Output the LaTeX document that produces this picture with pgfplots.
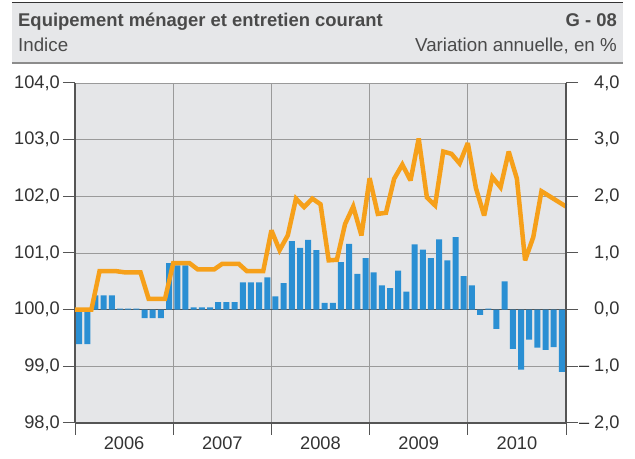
\documentclass[border=0pt]{standalone}
\usepackage{pgfplots}
\pgfplotsset{compat=1.18}
\usetikzlibrary{calc}
\usepackage{fontspec}
\setmainfont{Liberation Sans}
\definecolor{plotbg}{HTML}{E5E6E8}
\definecolor{headbg}{HTML}{E6E7E9}
\definecolor{axdark}{HTML}{555555}
\definecolor{gridc}{HTML}{9A9A9A}
\definecolor{barblue}{HTML}{2A8FD3}
\definecolor{lineorange}{HTML}{F6A01A}
\definecolor{titlegray}{HTML}{4A4A4A}
\definecolor{txt}{HTML}{333333}
\newcommand{\fs}{\fontsize{18.3}{20}\selectfont}
\begin{document}
\begin{tikzpicture}
\begin{axis}[
  scale only axis, width=491bp, height=340bp,
  xmin=0, xmax=60, ymin=-2, ymax=4,
  axis background/.style={fill=plotbg},
  axis x line*=bottom, axis y line*=left,
  axis line style={draw=axdark, line width=1.3bp},
  tick align=outside,
  major tick length=12bp,
  tick style={draw=axdark, line width=1bp},
  xtick={0,12,24,36,48,60}, xticklabels={},
  extra x ticks={6,18,30,42,54},
  extra x tick labels={2006,2007,2008,2009,2010},
  extra x tick style={major tick length=0pt, grid=none,
     xticklabel style={anchor=north, inner sep=0pt, yshift=-14bp}},
  ytick={-2,-1,0,1,2,3,4},
  yticklabels={{98,0},{99,0},{100,0},{101,0},{102,0},{103,0},{104,0}},
  yticklabel style={anchor=east, inner sep=0pt, xshift=-3bp},
  ticklabel style={font=\fs, text=txt},
  grid=major,
  major grid style={draw=gridc, line width=0.9bp},
  clip=false,
]
\coordinate (O) at (rel axis cs:0,0);
\draw[draw=axdark, line width=1.2bp] (axis cs:0,0) -- (axis cs:60,0);
\addplot[ybar, bar width=6bp, fill=barblue, draw=none] coordinates {
(0.5,-0.61) (1.5,-0.61) (2.5,0.25) (3.5,0.25) (4.5,0.25) (5.5,0.02)
(6.5,0.02) (7.5,0.02) (8.5,-0.15) (9.5,-0.15) (10.5,-0.15) (11.5,0.82)
(12.5,0.78) (13.5,0.78) (14.5,0.04) (15.5,0.04) (16.5,0.04) (17.5,0.135)
(18.5,0.135) (19.5,0.135) (20.5,0.48) (21.5,0.48) (22.5,0.48) (23.5,0.57)
(24.5,0.235) (25.5,0.47) (26.5,1.21) (27.5,1.09) (28.5,1.23) (29.5,1.05)
(30.5,0.12) (31.5,0.12) (32.5,0.84) (33.5,1.16) (34.5,0.63) (35.5,0.91)
(36.5,0.66) (37.5,0.43) (38.5,0.38) (39.5,0.69) (40.5,0.32) (41.5,1.15)
(42.5,1.06) (43.5,0.91) (44.5,1.24) (45.5,0.87) (46.5,1.28) (47.5,0.59)
(48.5,0.43) (49.5,-0.09) (50.5,0.02) (51.5,-0.34) (52.5,0.50) (53.5,-0.69)
(54.5,-1.06) (55.5,-0.53) (56.5,-0.67) (57.5,-0.71) (58.5,-0.66) (59.5,-1.10)
};
\addplot[draw=lineorange, line width=4.5bp, mark=none, line join=miter, miter limit=3] coordinates {
(0,0) (1,0) (2,0) (3,0.68) (4,0.68) (5,0.68) (6,0.66) (7,0.66) (8,0.66)
(9,0.19) (10,0.19) (11,0.19) (12,0.82) (13,0.82) (14,0.82) (15,0.71)
(16,0.71) (17,0.71) (18,0.81) (19,0.81) (20,0.81) (21,0.68) (22,0.68)
(23,0.68) (24,1.40) (25,1.05) (26,1.31) (27,1.96) (28,1.81) (29,1.96)
(30,1.86) (31,0.87) (32,0.88) (33,1.51) (34,1.82) (35,1.31) (36,2.32)
(37,1.69) (38,1.71) (39,2.31) (40,2.56) (41,2.28) (42,3.02) (43,1.98)
(44,1.84) (45,2.79) (46,2.75) (47,2.58) (48,2.94) (49,2.14) (50,1.66)
(51,2.34) (52,2.16) (53,2.79) (54,2.31) (55,0.87) (56,1.28) (57,2.09)
(58,2.00) (59,1.91) (60,1.82)
};
\end{axis}

\begin{axis}[
  scale only axis, width=491bp, height=340bp,
  xmin=0, xmax=60, ymin=-2, ymax=4,
  axis x line=none, axis y line*=right,
  axis line style={draw=axdark, line width=1.3bp},
  tick align=outside,
  major tick length=12bp,
  tick style={draw=axdark, line width=1bp},
  ytick={-2,-1,0,1,2,3,4},
  yticklabels={{\llap{–\hspace{5bp}}2,0},{\llap{–\hspace{5bp}}1,0},{0,0},{1,0},{2,0},{3,0},{4,0}},
  yticklabel style={anchor=west, inner sep=0pt, xshift=16bp, font=\fs, text=txt},
]
\addplot[draw=none] coordinates {(0,0)};
\end{axis}

\begin{scope}[shift={($(O)+(-75bp,-36bp)$)}, x=1bp, y=1bp]
\fill[headbg] (12,396) rectangle (623,456);
\draw[black!80, line width=1bp] (12,456) -- (623,456);
\draw[gray!90, line width=2bp] (12,396) -- (623,396);
\node[anchor=base west, inner sep=0pt, text=titlegray, font=\fontsize{18.5}{20}\selectfont\bfseries] at (18,432) {Equipement ménager et entretien courant};
\node[anchor=base east, inner sep=0pt, text=titlegray, font=\fontsize{18.5}{20}\selectfont\bfseries] at (617,432) {G - 08};
\node[anchor=base west, inner sep=0pt, text=titlegray, font=\fontsize{18.8}{20}\selectfont] at (18,407.3) {Indice};
\node[anchor=base east, inner sep=0pt, text=titlegray, font=\fontsize{18.8}{20}\selectfont] at (617,407.3) {Variation annuelle, en \%};
\pgfresetboundingbox
\path[use as bounding box] (0,0) rectangle (635,459);
\end{scope}
\end{tikzpicture}
\end{document}
